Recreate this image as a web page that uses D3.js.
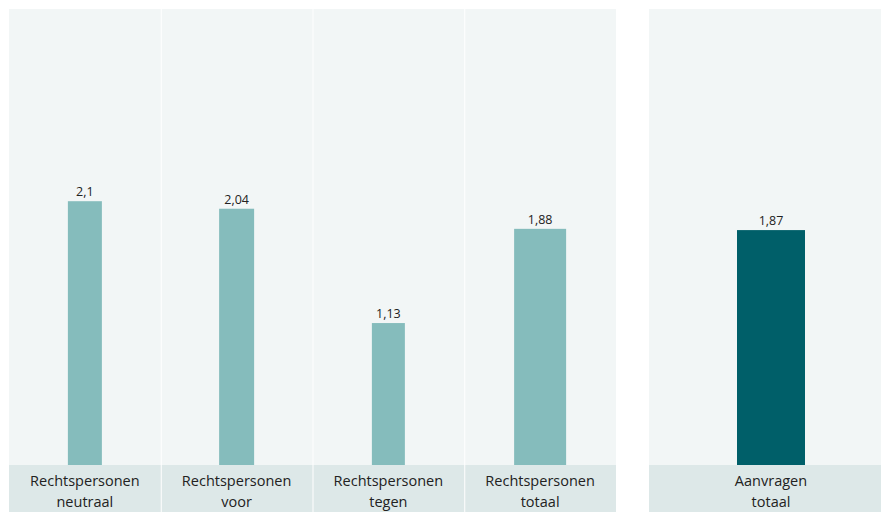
<!DOCTYPE html>
<html>
<head>
<meta charset="utf-8">
<script src="https://cdn.jsdelivr.net/npm/d3@7"></script>
<style>
  html, body { margin: 0; padding: 0; background: #ffffff; }
  svg { display: block; }
  text { font-family: "Open Sans", "Noto Sans", sans-serif; }
</style>
</head>
<body>
<svg id="chart" width="881" height="512"></svg>
<script>
// ---- data ----
const groupCategories = [
  ["Rechtspersonen", "neutraal"],
  ["Rechtspersonen", "voor"],
  ["Rechtspersonen", "tegen"],
  ["Rechtspersonen", "totaal"]
];
const groupValues = [2.1, 2.04, 1.13, 1.88];
const totalCategory = ["Aanvragen", "totaal"];
const totalValue = [1.87];
const yDomain = [0, 3.63];

// ---- styles / layout ----
const W = 881, H = 512;
const plotTop = 9, plotBase = 465;
const panelBg = "#f2f6f6", bandBg = "#dde8e8";
const barLight = "#85bcbc", barDark = "#005f69";
const groupBarWidths = [34, 35, 33, 52];
const totalBarWidth = 68;

const svg = d3.select("#chart");

const y = d3.scaleLinear().domain(yDomain).range([plotBase, plotTop]);

const xGroup = d3.scaleBand()
  .domain(d3.range(groupValues.length))
  .range([9, 616])
  .paddingInner(0).paddingOuter(0);

const xTotal = d3.scaleBand()
  .domain([0])
  .range([649, 893])
  .paddingInner(0).paddingOuter(0);

function fmt(v) { return String(v).replace(".", ","); }

function drawPanels(scale, cats, values, widths, color) {
  const g = svg.append("g");
  const n = values.length;
  const items = d3.range(n).map(i => ({ i, cat: cats[i], v: values[i], w: widths[i] }));

  g.selectAll("rect.panel").data(items).join("rect")
    .attr("class", "panel")
    .attr("x", d => scale(d.i) + (d.i > 0 ? 1 : 0))
    .attr("y", plotTop)
    .attr("width", d => scale.bandwidth() - (d.i > 0 ? 1 : 0))
    .attr("height", plotBase - plotTop)
    .attr("fill", panelBg);

  g.selectAll("rect.band").data(items).join("rect")
    .attr("class", "band")
    .attr("x", d => scale(d.i) + (d.i > 0 ? 1 : 0))
    .attr("y", plotBase)
    .attr("width", d => scale.bandwidth() - (d.i > 0 ? 1 : 0))
    .attr("height", H - plotBase)
    .attr("fill", bandBg);

  g.selectAll("rect.bar").data(items).join("rect")
    .attr("class", "bar")
    .attr("x", d => scale(d.i) + scale.bandwidth() / 2 - d.w / 2)
    .attr("y", d => y(d.v))
    .attr("width", d => d.w)
    .attr("height", d => plotBase - y(d.v))
    .attr("fill", color);

  g.selectAll("text.val").data(items).join("text")
    .attr("class", "val")
    .attr("x", d => scale(d.i) + scale.bandwidth() / 2)
    .attr("y", d => y(d.v) - 5)
    .attr("text-anchor", "middle")
    .attr("font-size", 12.5)
    .attr("fill", "#222222")
    .text(d => fmt(d.v));

  const lab = g.selectAll("text.cat").data(items).join("text")
    .attr("class", "cat")
    .attr("text-anchor", "middle")
    .attr("font-size", 14.5)
    .attr("fill", "#222222");
  lab.each(function(d) {
    const t = d3.select(this);
    const cx = scale(d.i) + scale.bandwidth() / 2;
    d.cat.forEach((line, k) => {
      t.append("tspan").attr("x", cx).attr("y", 486 + k * 21).text(line);
    });
  });
}

drawPanels(xGroup, groupCategories, groupValues, groupBarWidths, barLight);
drawPanels(xTotal, [totalCategory], totalValue, [totalBarWidth], barDark);
</script>
</body>
</html>
